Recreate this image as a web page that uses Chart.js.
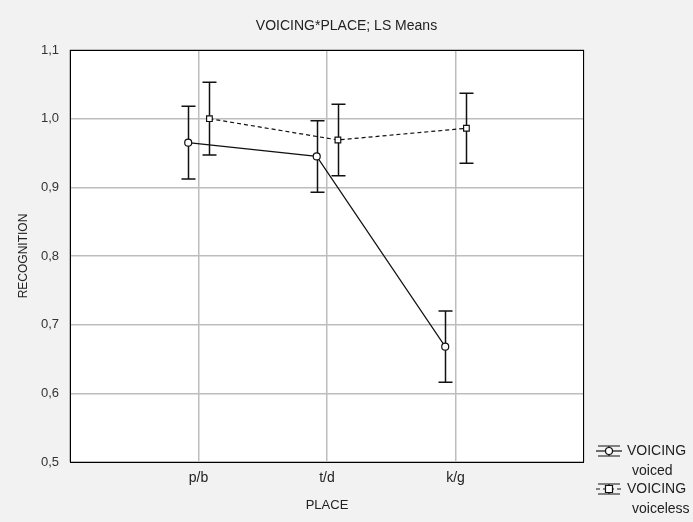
<!DOCTYPE html>
<html lang="en">
<head>
    <meta charset="UTF-8">
    <title>VOICING*PLACE; LS Means</title>
    <script src="https://cdn.jsdelivr.net/npm/chart.js"></script>
    <style>
        * { margin: 0; padding: 0; box-sizing: border-box; }
        body { background: #f2f2f2; width: 693px; height: 522px; overflow: hidden; }
        canvas { display: block; }
    </style>
</head>
<body>
    <canvas id="lsChart" width="693" height="522"></canvas>

    <script>
        // Data
        const places = ['p/b', 't/d', 'k/g'];
        const voicedMeans = [0.965, 0.945, 0.668];
        const voicedErr = [0.053, 0.052, 0.052];
        const voicelessMeans = [1.000, 0.969, 0.986];
        const voicelessErr = [0.053, 0.052, 0.051];
        const yTicks = [0.5, 0.6, 0.7, 0.8, 0.9, 1.0, 1.1];
        const seriesNames = [['VOICING', 'voiced'], ['VOICING', 'voiceless']];

        const FONT = "'Liberation Sans', Arial, sans-serif";
        const dodge = [-0.08, 0.085];

        function points(means, err, shift) {
            return means.map((m, i) => ({ x: i + 1 + shift, y: m, err: err[i] }));
        }

        // white plot area + black frame
        const plotFrame = {
            id: 'plotFrame',
            beforeDraw(chart) {
                const { ctx, chartArea: a } = chart;
                ctx.save();
                ctx.fillStyle = '#ffffff';
                ctx.fillRect(a.left, a.top, a.right - a.left, a.bottom - a.top);
                ctx.restore();
            },
            afterDraw(chart) {
                const { ctx, chartArea: a } = chart;
                ctx.save();
                ctx.strokeStyle = '#000';
                ctx.lineWidth = 1;
                ctx.strokeRect(a.left + 0.5, a.top + 0.5, a.right - a.left - 1, a.bottom - a.top);
                // title centred on the whole picture
                ctx.fillStyle = '#222';
                ctx.font = '14px ' + FONT;
                ctx.textAlign = 'center';
                ctx.textBaseline = 'middle';
                ctx.fillText('VOICING*PLACE; LS Means', chart.width / 2, 26);
                ctx.restore();
            }
        };

        // vertical error bars with caps
        const errorBars = {
            id: 'errorBars',
            beforeDatasetsDraw(chart) {
                const { ctx, scales: { x, y } } = chart;
                ctx.save();
                ctx.strokeStyle = '#111';
                ctx.lineWidth = 1.5;
                chart.data.datasets.forEach(ds => {
                    ds.data.forEach(p => {
                        const px = Math.round(x.getPixelForValue(p.x)) + 0.5;
                        const top = y.getPixelForValue(p.y + p.err);
                        const bot = y.getPixelForValue(p.y - p.err);
                        ctx.beginPath();
                        ctx.moveTo(px, top); ctx.lineTo(px, bot);
                        ctx.moveTo(px - 7, top); ctx.lineTo(px + 7, top);
                        ctx.moveTo(px - 7, bot); ctx.lineTo(px + 7, bot);
                        ctx.stroke();
                    });
                });
                ctx.restore();
            }
        };

        // legend at bottom right, outside the plot
        const sideLegend = {
            id: 'sideLegend',
            afterDraw(chart) {
                const { ctx } = chart;
                ctx.save();
                ctx.font = '14px ' + FONT;
                ctx.fillStyle = '#222';
                ctx.textBaseline = 'middle';
                chart.data.datasets.forEach((ds, i) => {
                    const cy = 451 + i * 38;
                    const cx = 609;
                    ctx.strokeStyle = '#111';
                    ctx.lineWidth = 1.2;
                    ctx.beginPath();
                    ctx.moveTo(cx - 11, cy - 5); ctx.lineTo(cx + 11, cy - 5);
                    ctx.moveTo(cx - 11, cy + 5); ctx.lineTo(cx + 11, cy + 5);
                    ctx.moveTo(cx, cy - 5); ctx.lineTo(cx, cy + 5);
                    ctx.stroke();
                    ctx.setLineDash(ds.borderDash || []);
                    ctx.beginPath();
                    ctx.moveTo(cx - 13, cy); ctx.lineTo(cx + 13, cy);
                    ctx.stroke();
                    ctx.setLineDash([]);
                    ctx.fillStyle = '#fff';
                    ctx.beginPath();
                    if (ds.pointStyle === 'rect') {
                        ctx.rect(cx - 3.5, cy - 3.5, 7, 7);
                    } else {
                        ctx.arc(cx, cy, 3.5, 0, Math.PI * 2);
                    }
                    ctx.fill();
                    ctx.stroke();
                    ctx.fillStyle = '#222';
                    ctx.fillText(ds.label[0], 627, cy);
                    ctx.fillText(ds.label[1], 632, cy + 20);
                });
                ctx.restore();
            }
        };

        new Chart(document.getElementById('lsChart'), {
            type: 'line',
            data: {
                datasets: [{
                    label: seriesNames[0],
                    data: points(voicedMeans, voicedErr, dodge[0]),
                    borderColor: '#111',
                    borderWidth: 1.2,
                    pointStyle: 'circle',
                    pointRadius: 3.5,
                    pointBackgroundColor: '#fff',
                    pointBorderColor: '#111',
                    pointBorderWidth: 1.2,
                    tension: 0
                }, {
                    label: seriesNames[1],
                    data: points(voicelessMeans, voicelessErr, dodge[1]),
                    borderColor: '#111',
                    borderWidth: 1.2,
                    borderDash: [4, 3],
                    pointStyle: 'rect',
                    pointRadius: 4,
                    pointBackgroundColor: '#fff',
                    pointBorderColor: '#111',
                    pointBorderWidth: 1.2,
                    tension: 0
                }]
            },
            options: {
                responsive: false,
                animation: false,
                layout: { padding: { top: 50, right: 109, left: 0, bottom: 0 } },
                plugins: {
                    legend: { display: false },
                    tooltip: { enabled: false },
                    title: { display: false }
                },
                scales: {
                    x: {
                        type: 'linear',
                        min: 0,
                        max: places.length + 1,
                        afterFit(s) { s.height = 60; },
                        afterBuildTicks(s) {
                            s.ticks = [0, 1, 2, 3, 4].map(v => ({ value: v }));
                        },
                        ticks: {
                            padding: 8,
                            color: '#222',
                            font: { family: FONT, size: 14 },
                            maxRotation: 0,
                            autoSkip: false,
                            callback: v => places[v - 1] || ''
                        },
                        grid: { color: '#bdbdbd', lineWidth: 1.5, drawTicks: false },
                        border: { display: false },
                        title: {
                            display: true,
                            text: 'PLACE',
                            color: '#222',
                            font: { family: FONT, size: 13 },
                            padding: { top: 0, bottom: 9 }
                        }
                    },
                    y: {
                        min: yTicks[0],
                        max: yTicks[yTicks.length - 1],
                        afterFit(s) { s.width = 70; },
                        afterBuildTicks(s) {
                            s.ticks = yTicks.map(v => ({ value: v }));
                        },
                        ticks: {
                            padding: 11,
                            color: '#333',
                            font: { family: FONT, size: 13 },
                            callback: v => v.toFixed(1).replace('.', ',')
                        },
                        grid: { color: '#bdbdbd', lineWidth: 1.5, drawTicks: false },
                        border: { display: false },
                        title: {
                            display: true,
                            text: 'RECOGNITION',
                            color: '#222',
                            font: { family: FONT, size: 12 },
                            padding: { top: 16, bottom: 0 }
                        }
                    }
                }
            },
            plugins: [plotFrame, errorBars, sideLegend]
        });
    </script>
</body>
</html>
